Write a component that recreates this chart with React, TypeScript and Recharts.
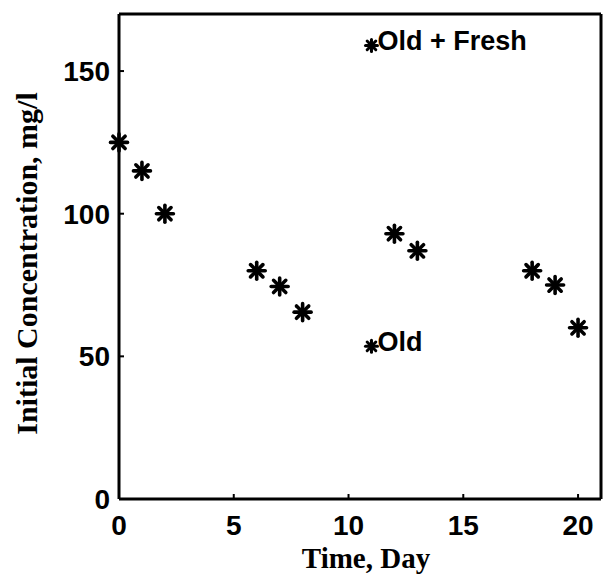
import { ScatterChart, Scatter, XAxis, YAxis } from 'recharts'

// days and initial concentration (mg/l)
const days = [0, 1, 2, 6, 7, 8, 12, 13, 18, 19, 20]
const conc = [125, 115, 100, 80, 74.5, 65.5, 93, 87, 80, 75, 60]

// in-plot legend entries (star + text)
const legendNames = ['Old + Fresh', 'Old']
const legendX = [11, 11]
const legendY = [159, 53.5]

const xTicks = [0, 5, 10, 15, 20]
const yTicks = [0, 50, 100, 150]

const points = days.map((d, i) => ({ x: d, y: conc[i] }))
const legendPts = legendNames.map((n, i) => ({ x: legendX[i], y: legendY[i], name: n }))

const sans = '"Liberation Sans", Arial, Helvetica, sans-serif'
const serif = '"Liberation Serif", "Times New Roman", serif'

function star(cx: number, cy: number, r: number, w: number) {
  const d = r * 0.72
  return (
    <g stroke="#000" strokeWidth={w} strokeLinecap="round">
      <line x1={cx - r} y1={cy} x2={cx + r} y2={cy} />
      <line x1={cx} y1={cy - r} x2={cx} y2={cy + r} />
      <line x1={cx - d} y1={cy - d} x2={cx + d} y2={cy + d} />
      <line x1={cx - d} y1={cy + d} x2={cx + d} y2={cy - d} />
    </g>
  )
}

const DataStar = (p: any) => star(p.cx, p.cy, 8.5, 3.6)

const LegendStar = (p: any) => (
  <g>
    {star(p.cx, p.cy, 6, 3)}
    <text x={p.cx + 6} y={p.cy + 5} fontFamily={sans} fontWeight="bold" fontSize={27} fill="#000">
      {p.payload.name}
    </text>
  </g>
)

const blank = () => <g />
const frame = { stroke: '#000', strokeWidth: 3 }
const nub = { stroke: '#000', strokeWidth: 2 }

export default function App() {
  return (
    <div style={{ position: 'absolute', left: 0, top: 0, background: '#fff' }}>
      <ScatterChart width={603} height={579} margin={{ top: 13, right: 1, bottom: 0, left: 0 }}>
        <XAxis
          xAxisId="b"
          type="number"
          dataKey="x"
          domain={[0, 21]}
          ticks={xTicks}
          height={80}
          axisLine={frame}
          tickLine={nub}
          tickSize={-5}
          tickMargin={21}
          tick={{ fill: '#000', fontFamily: sans, fontWeight: 'bold', fontSize: 28 }}
          label={{
            content: ({ viewBox }: any) => (
              <text x={viewBox.x + viewBox.width / 2 + 6} y={568} textAnchor="middle"
                fontFamily={serif} fontWeight="bold" fontSize={29} fill="#000">
                Time, Day
              </text>
            ),
          }}
        />
        <XAxis
          xAxisId="t"
          orientation="top"
          type="number"
          dataKey="x"
          domain={[0, 21]}
          ticks={xTicks}
          height={1}
          axisLine={frame}
          tickLine={nub}
          tickSize={-5}
          tick={blank}
        />
        <YAxis
          yAxisId="l"
          type="number"
          dataKey="y"
          domain={[0, 170]}
          ticks={yTicks}
          width={119}
          axisLine={frame}
          tickLine={nub}
          tickSize={-5}
          tickMargin={14}
          tick={{ fill: '#000', fontFamily: sans, fontWeight: 'bold', fontSize: 28 }}
          label={{
            content: ({ viewBox }: any) => {
              const cx = 37
              const cy = viewBox.y + viewBox.height / 2 + 7
              return (
                <text x={cx} y={cy} transform={`rotate(-90 ${cx} ${cy})`} textAnchor="middle"
                  fontFamily={serif} fontWeight="bold" fontSize={30} fill="#000">
                  Initial Concentration, mg/l
                </text>
              )
            },
          }}
        />
        <YAxis
          yAxisId="r"
          orientation="right"
          type="number"
          dataKey="y"
          domain={[0, 170]}
          ticks={yTicks}
          width={1}
          axisLine={frame}
          tickLine={nub}
          tickSize={-5}
          tick={blank}
        />
        <Scatter data={points} xAxisId="b" yAxisId="l" shape={DataStar} isAnimationActive={false} />
        <Scatter data={legendPts} xAxisId="b" yAxisId="l" shape={LegendStar} isAnimationActive={false} />
      </ScatterChart>
    </div>
  )
}
